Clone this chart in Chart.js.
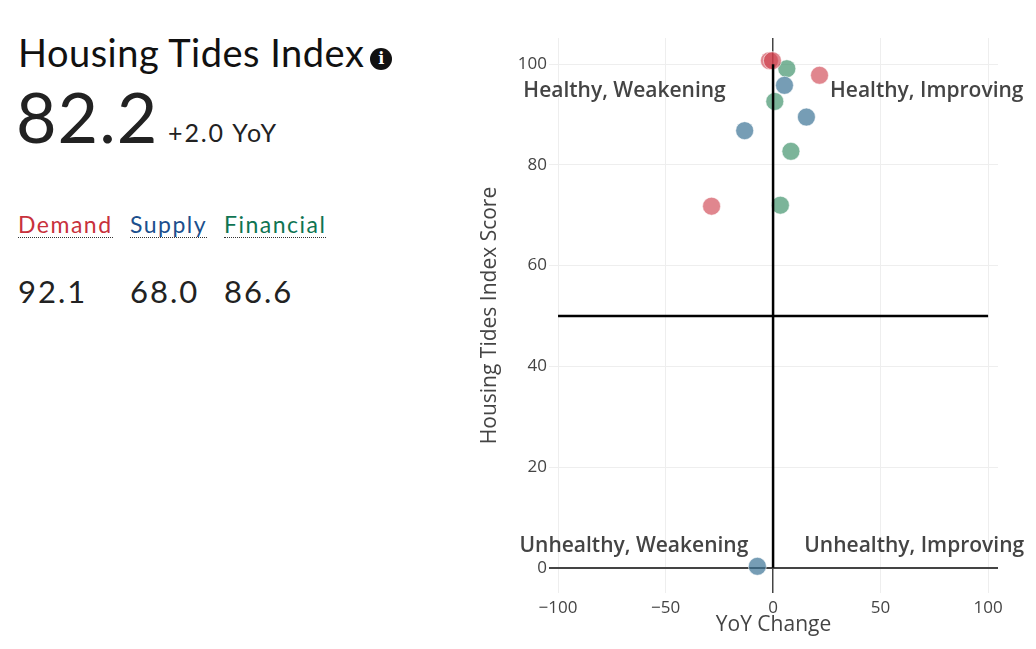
<!DOCTYPE html>
<html>
<head>
<meta charset="utf-8">
<script src="https://cdn.jsdelivr.net/npm/chart.js@4"></script>
<style>
  body { margin: 0; width: 1036px; height: 649px; background: #fff; overflow: hidden; font-family: Lato, sans-serif; color: #222; }
  .abs { position: absolute; white-space: nowrap; line-height: 1; }
  #title { left: 18px; top: 33px; font-size: 38px; color: #111; letter-spacing: 0.5px; }
  #info { display: inline-block; width: 22px; height: 22px; border-radius: 50%; background: #111; color: #fff; letter-spacing: 0;
          font: bold 16px "DejaVu Serif", serif; text-align: center; line-height: 22px; vertical-align: 3px; margin-left: 6px; }
  #score { left: 16px; top: 81px; font-size: 70px; color: #222; letter-spacing: 1px; }
  #yoy { left: 168px; top: 120px; font-size: 25px; color: #222; letter-spacing: 1.9px; }
  .sub { top: 213px; font-size: 23px; letter-spacing: 1.5px; border-bottom: 1px dotted #333; padding-bottom: 1px; }
  .val { top: 276px; font-size: 31px; color: #222; letter-spacing: 2px; }
  #chartWrap { position: absolute; left: 470px; top: 0; width: 566px; height: 649px; }
</style>
</head>
<body>
<div id="title" class="abs">Housing Tides Index<span id="info">i</span></div>
<div id="score" class="abs">82.2</div>
<div id="yoy" class="abs">+2.0 YoY</div>
<div class="abs sub" style="left:18px;color:#c8313c">Demand</div>
<div class="abs sub" style="left:130px;color:#1b4f8d">Supply</div>
<div class="abs sub" style="left:224px;color:#0f7452">Financial</div>
<div class="abs val" style="left:18px">92.1</div>
<div class="abs val" style="left:130px">68.0</div>
<div class="abs val" style="left:224px">86.6</div>
<div id="chartWrap"><canvas id="quadChart"></canvas></div>

<script>
// puntos por componente: cambio anual (x) y puntaje (y)
var demandX = [-1.7, -0.3, 21.6, -28.6];
var demandY = [100.7, 100.7, 97.8, 71.8];
var supplyX = [5.3, 15.5, -13.2, -7.3];
var supplyY = [95.8, 89.5, 86.8, 0.3];
var financialX = [6.4, 0.8, 8.3, 3.4];
var financialY = [99.1, 92.6, 82.7, 72.0];

var xTicks = [-100, -50, 0, 50, 100];
var yTicks = [0, 20, 40, 60, 80, 100];

// etiquetas de cuadrantes
var quadLabels = ['Healthy, Weakening', 'Healthy, Improving', 'Unhealthy, Weakening', 'Unhealthy, Improving'];
var quadX = [-22, 26.5, -11.5, 14.5];
var quadY = [94.6, 94.6, 4.4, 4.4];
var quadAlign = ['right', 'left', 'right', 'left'];

function toPoints(xs, ys) {
    return xs.map(function (x, i) { return { x: x, y: ys[i] }; });
}

var quadLabelPlugin = {
    id: 'quadLabels',
    afterDatasetsDraw: function (chart) {
        var ctx = chart.ctx;
        var xs = chart.scales.x, ys = chart.scales.y;
        ctx.save();
        ctx.font = '600 21px "Open Sans"';
        ctx.fillStyle = '#444';
        ctx.textBaseline = 'middle';
        quadLabels.forEach(function (t, i) {
            ctx.textAlign = quadAlign[i];
            ctx.fillText(t, xs.getPixelForValue(quadX[i]), ys.getPixelForValue(quadY[i]));
        });
        ctx.restore();
    }
};

function pointSet(label, xs, ys, color) {
    return {
        type: 'scatter',
        label: label,
        data: toPoints(xs, ys),
        backgroundColor: color,
        borderColor: 'rgba(255,255,255,0.6)',
        borderWidth: 1,
        pointRadius: 9,
        order: 2
    };
}

var ctx = document.getElementById('quadChart');
var myChart = new Chart(ctx, {
    data: {
        datasets: [
            pointSet('Demand', demandX, demandY, 'rgba(205,60,72,0.62)'),
            pointSet('Supply', supplyX, supplyY, 'rgba(60,115,150,0.7)'),
            pointSet('Financial', financialX, financialY, 'rgba(60,145,105,0.68)'),
            {
                type: 'line',
                data: [{ x: -100, y: 50 }, { x: 100, y: 50 }],
                borderColor: '#000', borderWidth: 2.5, pointRadius: 0, order: 1
            },
            {
                type: 'line',
                data: [{ x: 0, y: 0 }, { x: 0, y: 100 }],
                borderColor: '#000', borderWidth: 2.5, pointRadius: 0, order: 1
            }
        ]
    },
    plugins: [quadLabelPlugin],
    options: {
        responsive: true,
        maintainAspectRatio: false,
        animation: false,
        layout: { padding: { top: 38, right: 38, left: 0, bottom: 0 } },
        plugins: { legend: { display: false }, tooltip: { enabled: false } },
        scales: {
            x: {
                type: 'linear', min: -104.2, max: 104.6,
                afterBuildTicks: function (s) { s.ticks = xTicks.map(function (v) { return { value: v }; }); },
                afterFit: function (s) { s.height = 56; },
                border: { display: false },
                grid: {
                    drawTicks: false,
                    color: function (c) { return c.tick && c.tick.value === 0 ? '#444' : '#eee'; },
                    lineWidth: function (c) { return c.tick && c.tick.value === 0 ? 1.5 : 1; }
                },
                ticks: {
                    padding: 5, color: '#444', font: { family: 'Open Sans', size: 17 },
                    callback: function (v) { return v < 0 ? '\u2212' + Math.abs(v) : v; }
                },
                title: { display: true, text: 'YoY Change', color: '#444', font: { family: 'Open Sans', size: 21 }, padding: { top: 0, bottom: 11 } }
            },
            y: {
                type: 'linear', min: -5, max: 105.2,
                afterBuildTicks: function (s) { s.ticks = yTicks.map(function (v) { return { value: v }; }); },
                afterFit: function (s) { s.width = 79; },
                border: { display: false },
                grid: {
                    drawTicks: false,
                    color: function (c) { return c.tick && c.tick.value === 0 ? '#444' : '#eee'; },
                    lineWidth: function (c) { return c.tick && c.tick.value === 0 ? 2 : 1; }
                },
                ticks: { padding: 2, color: '#444', font: { family: 'Open Sans', size: 17 } },
                title: { display: true, text: 'Housing Tides Index Score', color: '#444', font: { family: 'Open Sans', size: 21 }, padding: { top: 7, bottom: 0 } }
            }
        }
    }
});
</script>
</body>
</html>
